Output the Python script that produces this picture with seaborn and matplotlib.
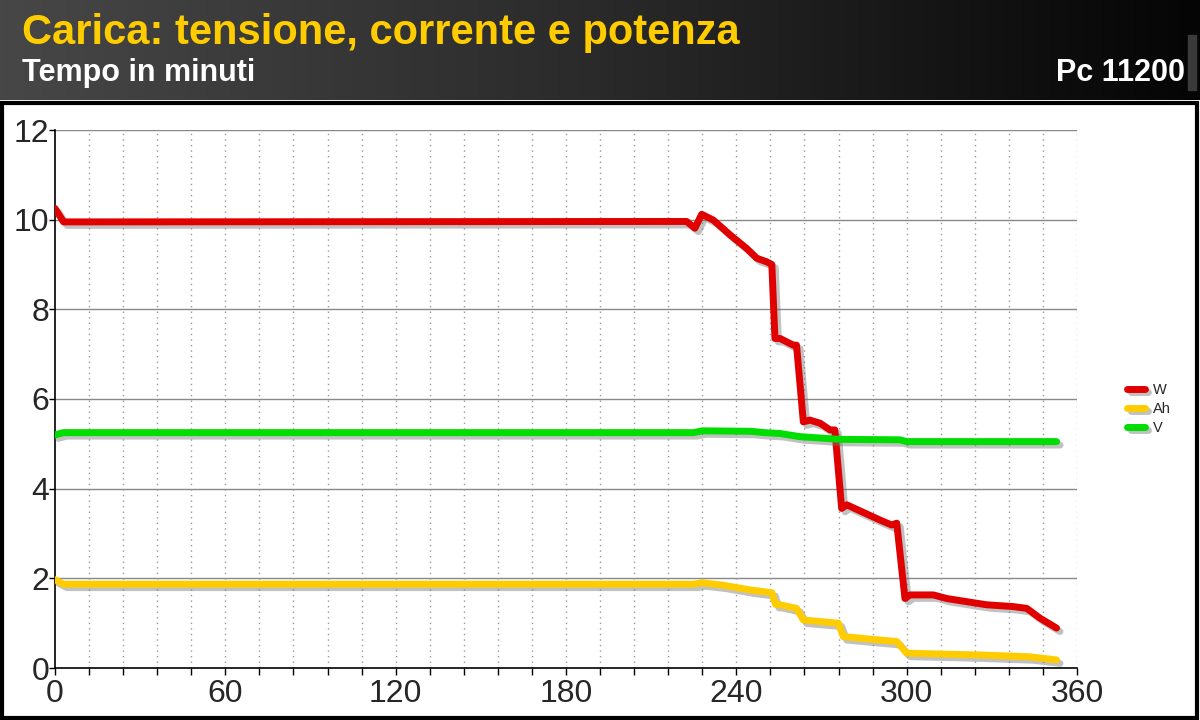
import matplotlib
matplotlib.use('Agg')
import matplotlib.pyplot as plt
import matplotlib.patheffects as pe
from matplotlib.lines import Line2D
from matplotlib.patches import Rectangle
import numpy as np
import pandas as pd
import seaborn as sns

# Values (time in minutes)
w_time = [0, 3, 222.5, 225.4, 227.8, 231.9, 237.8, 243.6, 247.2, 250.7, 252.5, 253.6,
          255.4, 260.1, 261.2, 263.6, 265.9, 269.5, 273, 274.7, 277.1, 278.9, 290.6,
          294.7, 296.5, 299.4, 301.2, 309.4, 314.1, 321.1, 328.2, 337.5, 342.3, 347, 352.8]
w_vals = [10.25, 9.95, 9.96, 9.81, 10.12, 9.99, 9.66, 9.36, 9.14, 9.06, 9.0, 7.35,
          7.35, 7.2, 7.2, 5.49, 5.53, 5.46, 5.31, 5.31, 3.56, 3.64, 3.30,
          3.19, 3.23, 1.55, 1.63, 1.63, 1.55, 1.48, 1.41, 1.37, 1.33, 1.11, 0.89]

ah_time = [0, 3, 225, 228, 235, 245, 250, 252.5, 253.8, 255.4, 261.2, 263.6, 275.9,
           277.7, 296.5, 300, 325.8, 343.4, 352.8]
ah_vals = [1.97, 1.87, 1.87, 1.9, 1.85, 1.74, 1.70, 1.68, 1.42, 1.41, 1.33, 1.07, 1.0,
           0.70, 0.59, 0.33, 0.29, 0.25, 0.18]

v_time = [0, 3, 225, 228, 245, 250, 255.4, 262.4, 276.5, 297.6, 300, 352.8]
v_vals = [5.2, 5.25, 5.25, 5.29, 5.28, 5.25, 5.23, 5.16, 5.1, 5.09, 5.05, 5.05]

series_names = ['W', 'Ah', 'V']
series_colors = ['#e00000', '#ffcc00', '#00dd00']
x_ticks = [0, 60, 120, 180, 240, 300, 360]

title_text = 'Carica: tensione, corrente e potenza'
subtitle_text = 'Tempo in minuti'
model_text = 'Pc 11200'

sns.set_style('white')
plt.rcParams['font.family'] = ['Liberation Sans', 'DejaVu Sans']

fig = plt.figure(figsize=(12, 7.2), dpi=100)

# Header band with horizontal gradient
head = fig.add_axes([0, 1 - 100 / 720, 1, 100 / 720])
grad = np.linspace(0, 1, 256).reshape(1, -1)
head.imshow(grad, aspect='auto', cmap=matplotlib.colors.LinearSegmentedColormap.from_list(
    'hd', ['#474747', '#2a2a2a', '#050505']), extent=[0, 1, 0, 1])
head.set_axis_off()
head.set_xlim(0, 1)
head.set_ylim(0, 1)
head.add_patch(Rectangle((1188 / 1200, 0.1), 8 / 1200, 0.55, color='#3a3a3a'))
head.text(22 / 1200, 0.67, title_text, color='#ffcc00', fontsize=30, fontweight='bold',
          va='center', ha='left')
head.text(22 / 1200, 0.27, subtitle_text, color='white', fontsize=22, fontweight='bold',
          va='center', ha='left')
head.text(1185 / 1200, 0.27, model_text, color='white', fontsize=22, fontweight='bold',
          va='center', ha='right')

# Frame of the white panel
fig.patches.append(Rectangle((0.0015, 0.003), 0.996, 1 - 103 / 720 - 0.003,
                             transform=fig.transFigure, fill=False, edgecolor='black',
                             linewidth=3))

ax = fig.add_axes([55 / 1200, 1 - 668 / 720, (1077 - 55) / 1200, (668 - 130) / 720])

shadow = [pe.SimpleLineShadow(offset=(2.5, -2.5), shadow_color='#777777', alpha=0.45),
          pe.Normal()]

data = [(w_time, w_vals), (ah_time, ah_vals), (v_time, v_vals)]
for name, color, (t, v) in zip(series_names, series_colors, data):
    df = pd.DataFrame({'t': t, 'v': v})
    sns.lineplot(data=df, x='t', y='v', ax=ax, color=color, linewidth=5,
                 sort=False, estimator=None, solid_capstyle='round',
                 solid_joinstyle='round', path_effects=shadow, zorder=3)

ax.set_xlim(0, 360)
ax.set_ylim(0, 12)
ax.set_xticks(x_ticks)
ax.set_xticks(np.arange(0, 361, 12), minor=True)
ax.set_yticks(np.arange(0, 13, 2))
ax.set_xlabel('')
ax.set_ylabel('')
ax.tick_params(axis='both', which='major', labelsize=23, length=4, width=1,
               color='black', pad=0, direction='out')
ax.tick_params(axis='x', which='minor', length=5, width=1, color='black', direction='out')
ax.tick_params(axis='x', which='major', length=5, pad=3)
ax.tick_params(axis='x', which='both', bottom=True)
ax.tick_params(axis='y', which='both', left=True)

for y in range(2, 13, 2):
    ax.axhline(y, color='#888888', linewidth=1, zorder=1)
for x in np.arange(12, 361, 12):
    ax.axvline(x, color='#999999', linewidth=1, linestyle=(0, (1, 3)), zorder=1)

for side in ['top', 'right']:
    ax.spines[side].set_visible(False)
for side in ['left', 'bottom']:
    ax.spines[side].set_color('black')
    ax.spines[side].set_linewidth(1.2)

handles = [Line2D([0], [0], color=c, linewidth=5, solid_capstyle='round',
                  path_effects=shadow) for c in series_colors]
fig.legend(handles, series_names, loc='center left', bbox_to_anchor=(1114 / 1200, 1 - 409 / 720),
           frameon=False, fontsize=10.5, handlelength=1.2, handletextpad=0.6, labelspacing=0.35)

fig.savefig('out.png', dpi=100)
